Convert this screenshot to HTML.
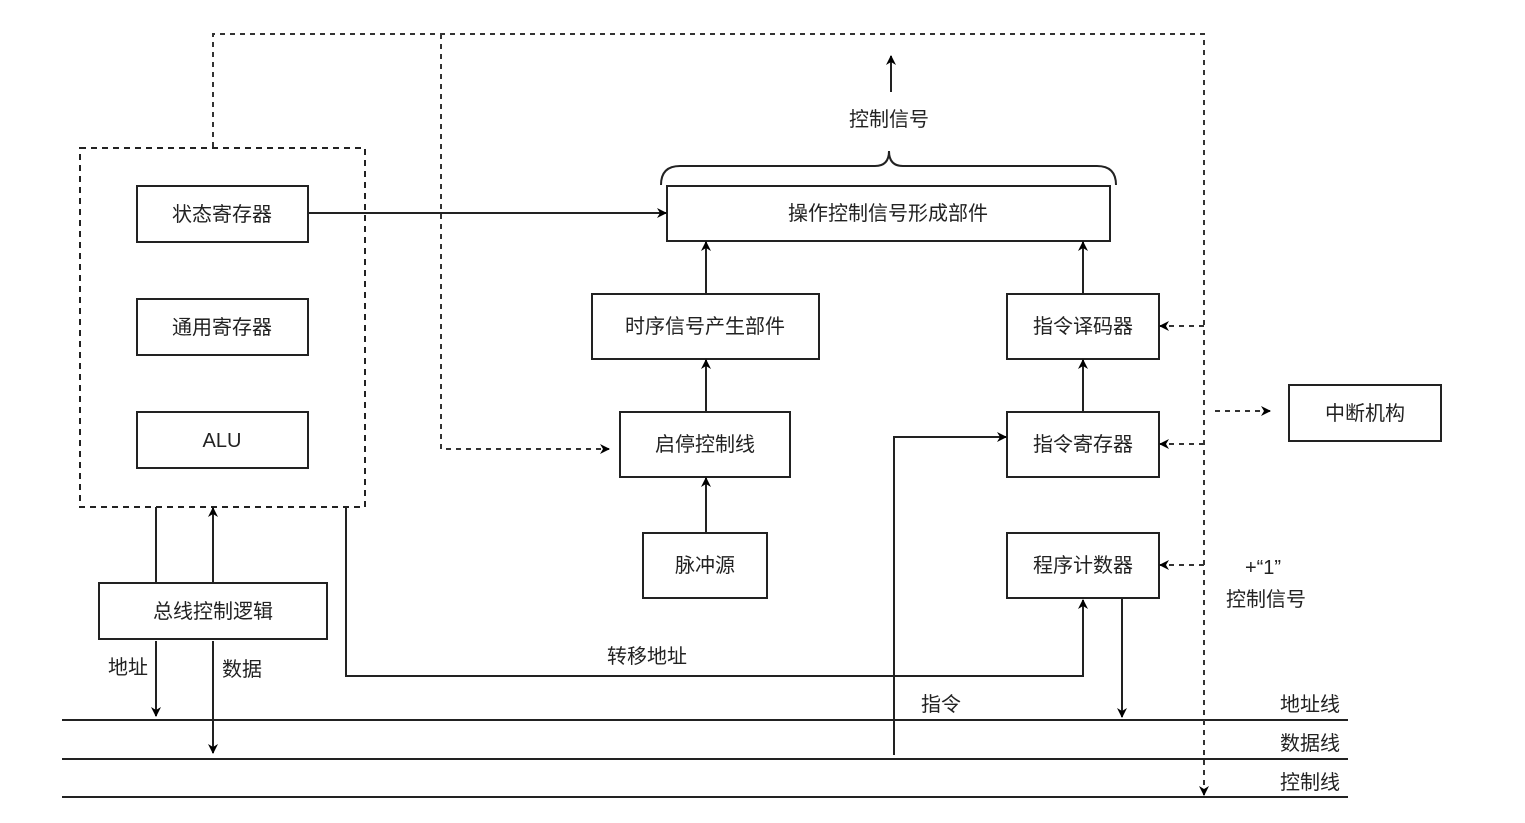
<!DOCTYPE html>
<html><head><meta charset="utf-8"><style>
html,body{margin:0;padding:0;background:#fff;}
svg{display:block;}
text{font-family:"Liberation Sans","Noto Sans CJK SC",sans-serif;font-size:20px;fill:#222;}
</style></head><body>
<svg width="1525" height="823" viewBox="0 0 1525 823" xmlns="http://www.w3.org/2000/svg">
<defs>
<marker id="a" markerWidth="10" markerHeight="10" refX="9" refY="5" orient="auto" markerUnits="userSpaceOnUse" viewBox="0 0 10 10">
<path d="M0,0 L10,5 L0,10 L3,5 z" fill="#000"/></marker>
<marker id="b" markerWidth="16" markerHeight="16" refX="15" refY="8" orient="auto" markerUnits="userSpaceOnUse" viewBox="0 0 16 16">
<path d="M0,1 L16,8 L0,15 L4,8 z" fill="#000"/></marker>
</defs>
<g fill="none" stroke="#222" stroke-width="2">
<!-- dashed group box -->
<rect x="80" y="148" width="285" height="359" stroke-dasharray="6,5"/>
<!-- boxes -->
<rect x="137" y="186" width="171" height="56"/>
<rect x="137" y="299" width="171" height="56"/>
<rect x="137" y="412" width="171" height="56"/>
<rect x="667" y="186" width="443" height="55"/>
<rect x="592" y="294" width="227" height="65"/>
<rect x="620" y="412" width="170" height="65"/>
<rect x="643" y="533" width="124" height="65"/>
<rect x="1007" y="294" width="152" height="65"/>
<rect x="1007" y="412" width="152" height="65"/>
<rect x="1007" y="533" width="152" height="65"/>
<rect x="1289" y="385" width="152" height="56"/>
<rect x="99" y="583" width="228" height="56"/>
<!-- solid connectors -->
<line x1="308" y1="213" x2="666" y2="213" marker-end="url(#a)"/>
<line x1="706" y1="294" x2="706" y2="242" marker-end="url(#a)"/>
<line x1="706" y1="412" x2="706" y2="360" marker-end="url(#a)"/>
<line x1="706" y1="533" x2="706" y2="478" marker-end="url(#a)"/>
<line x1="1083" y1="294" x2="1083" y2="242" marker-end="url(#a)"/>
<line x1="1083" y1="412" x2="1083" y2="360" marker-end="url(#a)"/>
<line x1="891" y1="92" x2="891" y2="56" marker-end="url(#a)"/>
<path d="M661,185 Q661,166 680,166 L875,166 Q889,166 889,151 Q889,166 903,166 L1097,166 Q1116,166 1116,185"/>
<line x1="156" y1="507" x2="156" y2="583"/>
<line x1="213" y1="583" x2="213" y2="508" marker-end="url(#a)"/>
<line x1="156" y1="641" x2="156" y2="716" marker-end="url(#a)"/>
<line x1="213" y1="641" x2="213" y2="753" marker-end="url(#a)"/>
<polyline points="346,507 346,676 1083,676 1083,600" marker-end="url(#a)"/>
<polyline points="894,755 894,437 1006,437" marker-end="url(#a)"/>
<line x1="1122" y1="598" x2="1122" y2="717" marker-end="url(#a)"/>
<!-- bus lines -->
<line x1="62" y1="720" x2="1348" y2="720"/>
<line x1="62" y1="759" x2="1348" y2="759"/>
<line x1="62" y1="797" x2="1348" y2="797"/>
</g>
<g fill="none" stroke="#333" stroke-width="2" stroke-dasharray="5,5">
<polyline points="213,147 213,34 1204,34 1204,795" marker-end="url(#a)"/>
<polyline points="441,34 441,449 609,449" marker-end="url(#a)"/>
<line x1="1204" y1="326" x2="1160" y2="326" marker-end="url(#a)"/>
<line x1="1204" y1="444" x2="1160" y2="444" marker-end="url(#a)"/>
<line x1="1204" y1="565" x2="1160" y2="565" marker-end="url(#a)"/>
<line x1="1215" y1="411" x2="1270" y2="411" marker-end="url(#a)"/>
</g>
<g text-anchor="middle">
<text x="222" y="221">状态寄存器</text>
<text x="222" y="334">通用寄存器</text>
<text x="222" y="447">ALU</text>
<text x="888" y="220">操作控制信号形成部件</text>
<text x="705" y="333">时序信号产生部件</text>
<text x="705" y="451">启停控制线</text>
<text x="705" y="572">脉冲源</text>
<text x="1083" y="333">指令译码器</text>
<text x="1083" y="451">指令寄存器</text>
<text x="1083" y="572">程序计数器</text>
<text x="1365" y="420">中断机构</text>
<text x="213" y="618">总线控制逻辑</text>
<text x="889" y="126">控制信号</text>
<text x="1263" y="574">+“1”</text>
<text x="1266" y="606">控制信号</text>
<text x="128" y="674">地址</text>
<text x="242" y="676">数据</text>
<text x="647" y="663">转移地址</text>
<text x="941" y="711">指令</text>
<text x="1310" y="711">地址线</text>
<text x="1310" y="750">数据线</text>
<text x="1310" y="789">控制线</text>
</g>
</svg>
</body></html>
